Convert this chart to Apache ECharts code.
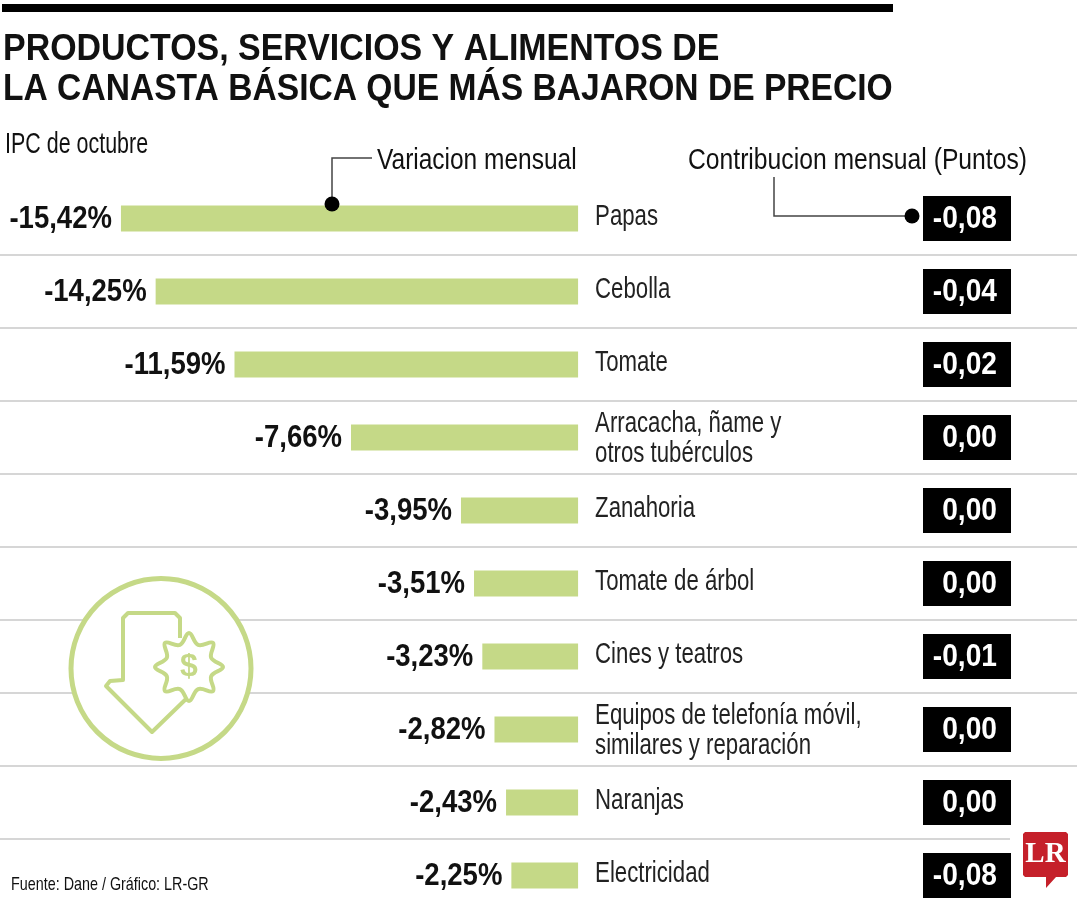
<!DOCTYPE html>
<html><head><meta charset="utf-8">
<style>html,body{margin:0;padding:0;background:#fff}#c{width:1080px;height:900px}</style>
<script src="https://cdn.jsdelivr.net/npm/echarts@6/dist/echarts.min.js"></script>
</head><body><div id="c"></div>
<script>
const categories = ['Papas','Cebolla','Tomate','Arracacha, ñame y\notros tubérculos','Zanahoria','Tomate de árbol','Cines y teatros','Equipos de telefonía móvil,\nsimilares y reparación','Naranjas','Electricidad'];
const variacion = [-15.42,-14.25,-11.59,-7.66,-3.95,-3.51,-3.23,-2.82,-2.43,-2.25];
const contribucion = [-0.08,-0.04,-0.02,0,0,0,-0.01,0,0,-0.08];
const titleLines = ['PRODUCTOS, SERVICIOS Y ALIMENTOS DE','LA CANASTA BÁSICA QUE MÁS BAJARON DE PRECIO'];
const FONT = '"Liberation Sans",sans-serif';
const GREEN = '#c5d987';
const comma = (v, d) => v.toFixed(d).replace('.', ',');

const gear = [];
for (let i = 0; i < 16; i++) {
  const r = i % 2 ? 24 : 34, a = i * Math.PI / 8 - Math.PI / 2;
  gear.push([189 + r * Math.cos(a), 667 + r * Math.sin(a)]);
}
const txt = (x, y, text, size, sx, weight) => ({type:'text', x, y, scaleX:sx, style:{text, fontFamily:FONT, fontSize:size, fontWeight:weight||'normal', fill:'#111', textVerticalAlign:'middle'}});
const ln = (pts) => ({type:'polyline', z:5, shape:{points:pts}, style:{stroke:'#444', lineWidth:1.5, fill:null}});

const rowLabels = (params, api) => {
  const i = api.value(1), v = api.value(0);
  const zero = api.coord([0, i]), end = api.coord([v, i]);
  const twoLines = categories[i].indexOf('\n') >= 0;
  return {type:'group', children:[
    {type:'text', x:end[0]-9, y:end[1]+1, scaleX:0.86,
     style:{text:comma(v,2)+'%', fontFamily:FONT, fontWeight:'bold', fontSize:32, fill:'#111', textAlign:'right', textVerticalAlign:'middle'}},
    {type:'text', x:zero[0]+17, y:zero[1]+(twoLines?1:-2), scaleX:0.74,
     style:{text:categories[i], fontFamily:FONT, fontSize:30, lineHeight:30, fill:'#222', textAlign:'left', textVerticalAlign:'middle'}}
  ]};
};
const boxes = (params, api) => {
  const i = api.value(1), c = api.coord([0, i]), w = api.size([1, 0])[0];
  return {type:'group', children:[
    {type:'rect', shape:{x:c[0]-w/2, y:c[1]-22.5, width:w, height:45}, style:{fill:'#000'}},
    {type:'text', x:c[0]+30, y:c[1]+1, scaleX:0.88,
     style:{text:comma(contribucion[i],2), fontFamily:FONT, fontWeight:'bold', fontSize:32, fill:'#fff', textAlign:'right', textVerticalAlign:'middle'}}
  ]};
};

const chart = echarts.init(document.getElementById('c'), null, {renderer:'canvas'});
chart.setOption({
  animation:false,
  backgroundColor:'#fff',
  grid:[
    {left:0, top:182, width:1077, height:730, outerBoundsMode:'none'},
    {left:923, top:182, width:88, height:730, outerBoundsMode:'none'}
  ],
  xAxis:[
    {type:'value', gridIndex:0, min:-19.5, max:16.83, show:false},
    {type:'category', gridIndex:1, data:['Contribucion'], show:false}
  ],
  yAxis:[
    {type:'category', gridIndex:0, inverse:true, data:categories,
     axisLine:{show:false, onZero:false}, axisTick:{show:false}, axisLabel:{show:false},
     splitLine:{show:true, showMinLine:false, showMaxLine:false, interval:0, lineStyle:{color:'#c9c9c9', width:1.5}}},
    {type:'category', gridIndex:1, inverse:true, data:categories, show:false}
  ],
  series:[
    {type:'bar', xAxisIndex:0, yAxisIndex:0, data:variacion, barWidth:26, itemStyle:{color:GREEN}},
    {type:'custom', xAxisIndex:0, yAxisIndex:0, z:4, clip:false, renderItem:rowLabels,
     data:variacion.map((v,i)=>[v,i]), encode:{x:0,y:1}},
    {type:'custom', xAxisIndex:1, yAxisIndex:1, z:4, clip:false, renderItem:boxes,
     data:contribucion.map((v,i)=>[0,i,v]), encode:{x:0,y:1}}
  ],
  graphic:[
    {type:'rect', shape:{x:2,y:4,width:891,height:8}, style:{fill:'#000'}},
    txt(3,50,titleLines[0],37,0.917,'bold'),
    txt(3,90,titleLines[1],37,0.908,'bold'),
    txt(5,145,'IPC de octubre',30,0.715),
    txt(377,161,'Variacion mensual',30,0.816),
    txt(688,161,'Contribucion mensual (Puntos)',30,0.823),
    txt(11,885,'Fuente: Dane / Gráfico: LR-GR',19,0.755),
    ln([[372,158],[332,158],[332,204]]),
    {type:'circle', z:5, shape:{cx:332,cy:204,r:7.5}, style:{fill:'#000'}},
    ln([[774,177],[774,216],[912,216]]),
    {type:'circle', z:5, shape:{cx:912,cy:216,r:7.5}, style:{fill:'#000'}},
    {type:'circle', z:10, shape:{cx:161,cy:668.5,r:90}, style:{fill:'#fff', stroke:GREEN, lineWidth:5}},
    {type:'polyline', z:11, shape:{points:[[180,638],[180,618],[175,613],[128,613],[123,618],[123,680],[110,681],[106,686],[152,732],[186,699]]},
     style:{fill:null, stroke:GREEN, lineWidth:4, lineJoin:'round'}},
    {type:'polygon', z:12, shape:{points:gear, smooth:0.4}, style:{fill:'#fff', stroke:GREEN, lineWidth:4}},
    {type:'text', z:13, x:189, y:667, style:{text:'$', fontFamily:FONT, fontWeight:'bold', fontSize:32, fill:GREEN, textAlign:'center', textVerticalAlign:'middle'}},
    {type:'rect', z:10, shape:{x:1010,y:835,width:70,height:8}, style:{fill:'#fff'}},
    {type:'polygon', z:11, shape:{points:[[1025,832],[1066,832],[1068,834],[1068,875],[1066,877],[1056,877],[1046,888],[1046,877],[1025,877],[1023,875],[1023,834]]}, style:{fill:'#c5202a'}},
    {type:'text', z:12, x:1045.5, y:855, style:{text:'LR', fontFamily:'"Liberation Serif"', fontWeight:'bold', fontSize:29, fill:'#fff', textAlign:'center', textVerticalAlign:'middle'}}
  ]
});
</script></body></html>
